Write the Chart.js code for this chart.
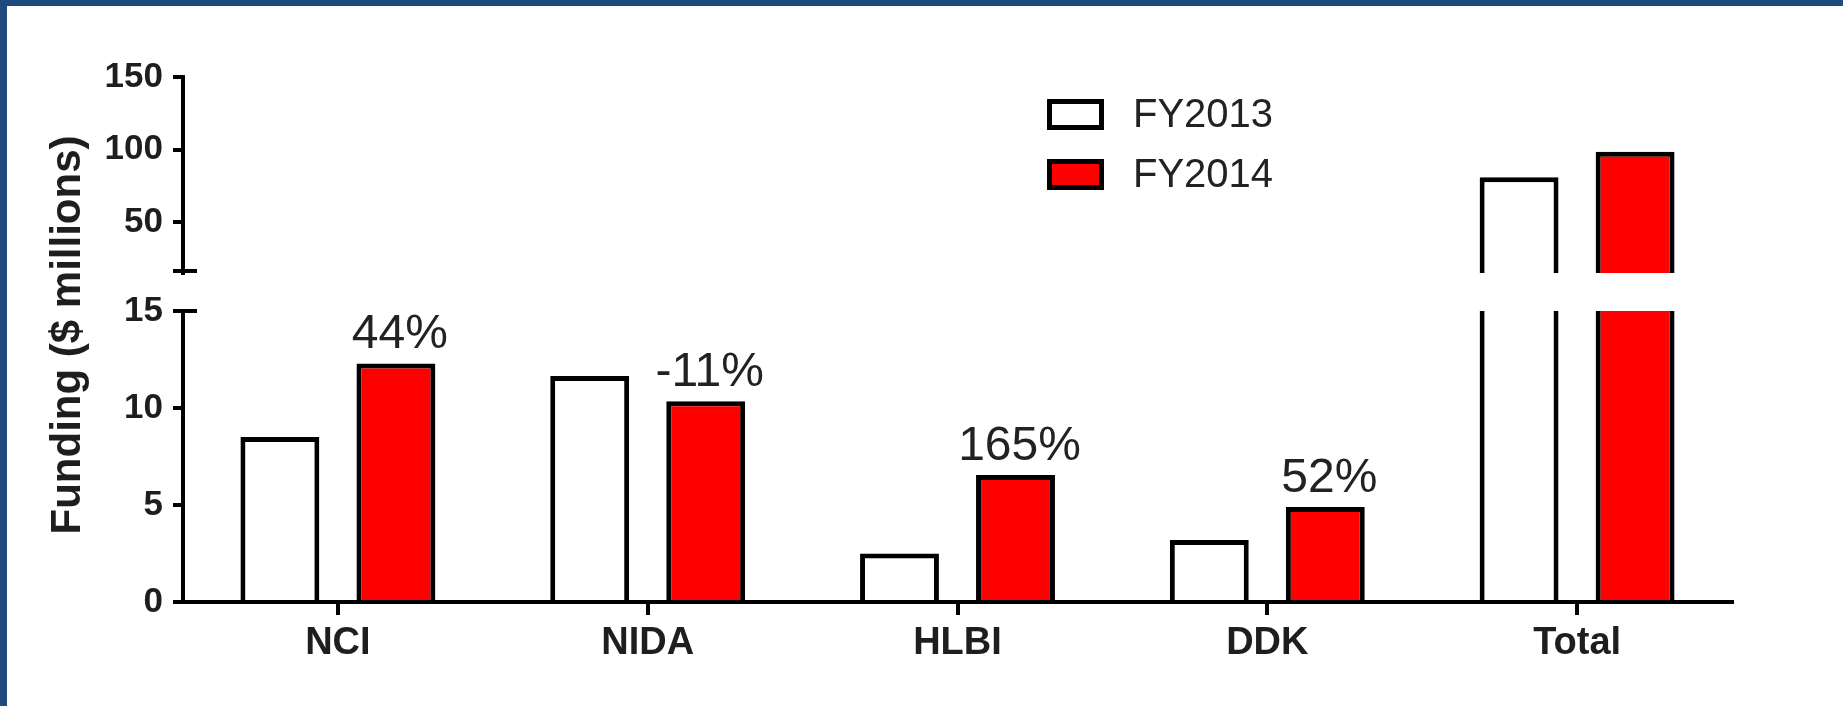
<!DOCTYPE html>
<html><head><meta charset="utf-8">
<script src="https://cdn.jsdelivr.net/npm/chart.js@4.4.1/dist/chart.umd.min.js"></script>
<style>
html,body{margin:0;padding:0;background:#fff;width:1843px;height:706px;overflow:hidden;}
#wrap{position:relative;width:1843px;height:706px;background:#fff;}
canvas{position:absolute;left:0;top:0;}
.bt{position:absolute;left:0;top:0;width:1843px;height:6px;background:#1f4a7e;}
.bl{position:absolute;left:0;top:0;width:7px;height:706px;background:#1f4a7e;}
</style></head>
<body><div id="wrap"><canvas id="low" width="1843" height="706"></canvas><canvas id="up" width="1843" height="706"></canvas><div class="bt"></div><div class="bl"></div></div>
<script>
const categories = ['NCI', 'NIDA', 'HLBI', 'DDK', 'Total'];
const seriesNames = ['FY2013', 'FY2014'];
const fy2013 = [8.5, 11.65, 2.5, 3.2, 81];
const fy2014 = [12.3, 10.35, 6.55, 4.9, 98.5];
const changeLabels = ['44%', '-11%', '165%', '52%', ''];
const lowerTicks = [0, 5, 10, 15];
const upperTicks = [50, 100, 150];
const yTitle = 'Funding ($ millions)';

const FONT = "'Liberation Sans', Arial, Helvetica, sans-serif";
Chart.defaults.font.family = FONT;
const TEXT = '#1e1e1e';

function makeDatasets() {
  return [
    { label: seriesNames[0], data: fy2013, backgroundColor: '#ffffff', borderColor: '#000000',
      borderWidth: 5, borderSkipped: 'start', clip: 0 },
    { label: seriesNames[1], data: fy2014, backgroundColor: '#ff0000', borderColor: '#000000',
      borderWidth: 5, borderSkipped: 'start', clip: 0 }
  ];
}

function yAxis(min, max, tickVals) {
  return {
    min: min, max: max, position: 'left',
    afterFit: s => { s.width = 183; },
    afterBuildTicks: s => { s.ticks = tickVals.map(v => ({ value: v })); },
    ticks: { font: { size: 35, weight: 'bold' }, color: TEXT, padding: 10 },
    grid: { drawOnChartArea: false, drawTicks: true, tickLength: 10, tickWidth: 4,
            tickColor: '#000', lineWidth: 4, color: '#000' },
    border: { display: true, width: 4, color: '#000' }
  };
}

const capPlugin = {
  id: 'cap',
  afterDraw(chart, args, opts) {
    const ctx = chart.ctx, a = chart.chartArea;
    ctx.save();
    ctx.strokeStyle = '#000';
    ctx.lineWidth = 4;
    ctx.beginPath();
    const y = opts.where === 'bottom' ? a.bottom - 2 : a.top;
    ctx.moveTo(a.left - 10, y);
    ctx.lineTo(a.left + 14, y);
    ctx.stroke();
    ctx.restore();
  }
};

const labelPlugin = {
  id: 'pct',
  afterDatasetsDraw(chart) {
    const ctx = chart.ctx;
    const meta = chart.getDatasetMeta(1);
    ctx.save();
    ctx.font = '48px ' + FONT;
    ctx.fillStyle = '#222';
    ctx.textAlign = 'center';
    ctx.textBaseline = 'alphabetic';
    meta.data.forEach((el, i) => {
      const t = changeLabels[i];
      if (t) ctx.fillText(t, el.x + 4, el.y - 15);
    });
    ctx.restore();
  }
};

const titlePlugin = {
  id: 'ytitle',
  afterDraw(chart) {
    const ctx = chart.ctx;
    ctx.save();
    ctx.translate(68, 335);
    ctx.rotate(-Math.PI / 2);
    ctx.font = 'bold 42px ' + FONT;
    ctx.fillStyle = TEXT;
    ctx.textAlign = 'center';
    ctx.textBaseline = 'middle';
    ctx.fillText(yTitle, 0, 0);
    ctx.restore();
  }
};

const legendPlugin = {
  id: 'boxlegend',
  afterDraw(chart) {
    const ctx = chart.ctx;
    ctx.save();
    chart.data.datasets.forEach((d, i) => {
      const bx = 1049.5, by = 101.5 + i * 60;
      ctx.fillStyle = d.backgroundColor;
      ctx.fillRect(bx, by, 52, 26);
      ctx.strokeStyle = '#000';
      ctx.lineWidth = 5;
      ctx.strokeRect(bx, by, 52, 26);
      ctx.fillStyle = '#222';
      ctx.font = '40px ' + FONT;
      ctx.textAlign = 'left';
      ctx.textBaseline = 'middle';
      ctx.fillText(d.label, 1133, by + 14);
    });
    ctx.restore();
  }
};

const common = {
  responsive: false, animation: false, devicePixelRatio: 1,
  datasets: { bar: { barPercentage: 0.68, categoryPercentage: 0.749 } },
};

new Chart(document.getElementById('low'), {
  type: 'bar',
  data: { labels: categories, datasets: makeDatasets() },
  options: Object.assign({}, common, {
    layout: { padding: { top: 311, bottom: 0, left: 0, right: 111 } },
    plugins: { legend: { display: false }, tooltip: { enabled: false }, cap: { where: 'top' } },
    scales: {
      x: {
        offset: true,
        afterFit: s => { s.height = 104; },
        grid: { offset: false, drawOnChartArea: false, drawTicks: true, tickLength: 13, tickWidth: 4,
                tickColor: '#000', lineWidth: 4, color: '#000' },
        border: { display: true, width: 4, color: '#000' },
        ticks: { font: { size: 38, weight: 'bold' }, color: TEXT, padding: 6, maxRotation: 0, autoSkip: false }
      },
      y: yAxis(0, 15, lowerTicks)
    }
  }),
  plugins: [capPlugin, labelPlugin, titlePlugin]
});

new Chart(document.getElementById('up'), {
  type: 'bar',
  data: { labels: categories, datasets: makeDatasets() },
  options: Object.assign({}, common, {
    layout: { padding: { top: 77, bottom: 433, left: 0, right: 111 } },
    plugins: { legend: { display: false }, tooltip: { enabled: false }, cap: { where: 'bottom' } },
    scales: {
      x: { display: false, offset: true },
      y: yAxis(15, 150, upperTicks)
    }
  }),
  plugins: [capPlugin, legendPlugin]
});
</script>
</body></html>
